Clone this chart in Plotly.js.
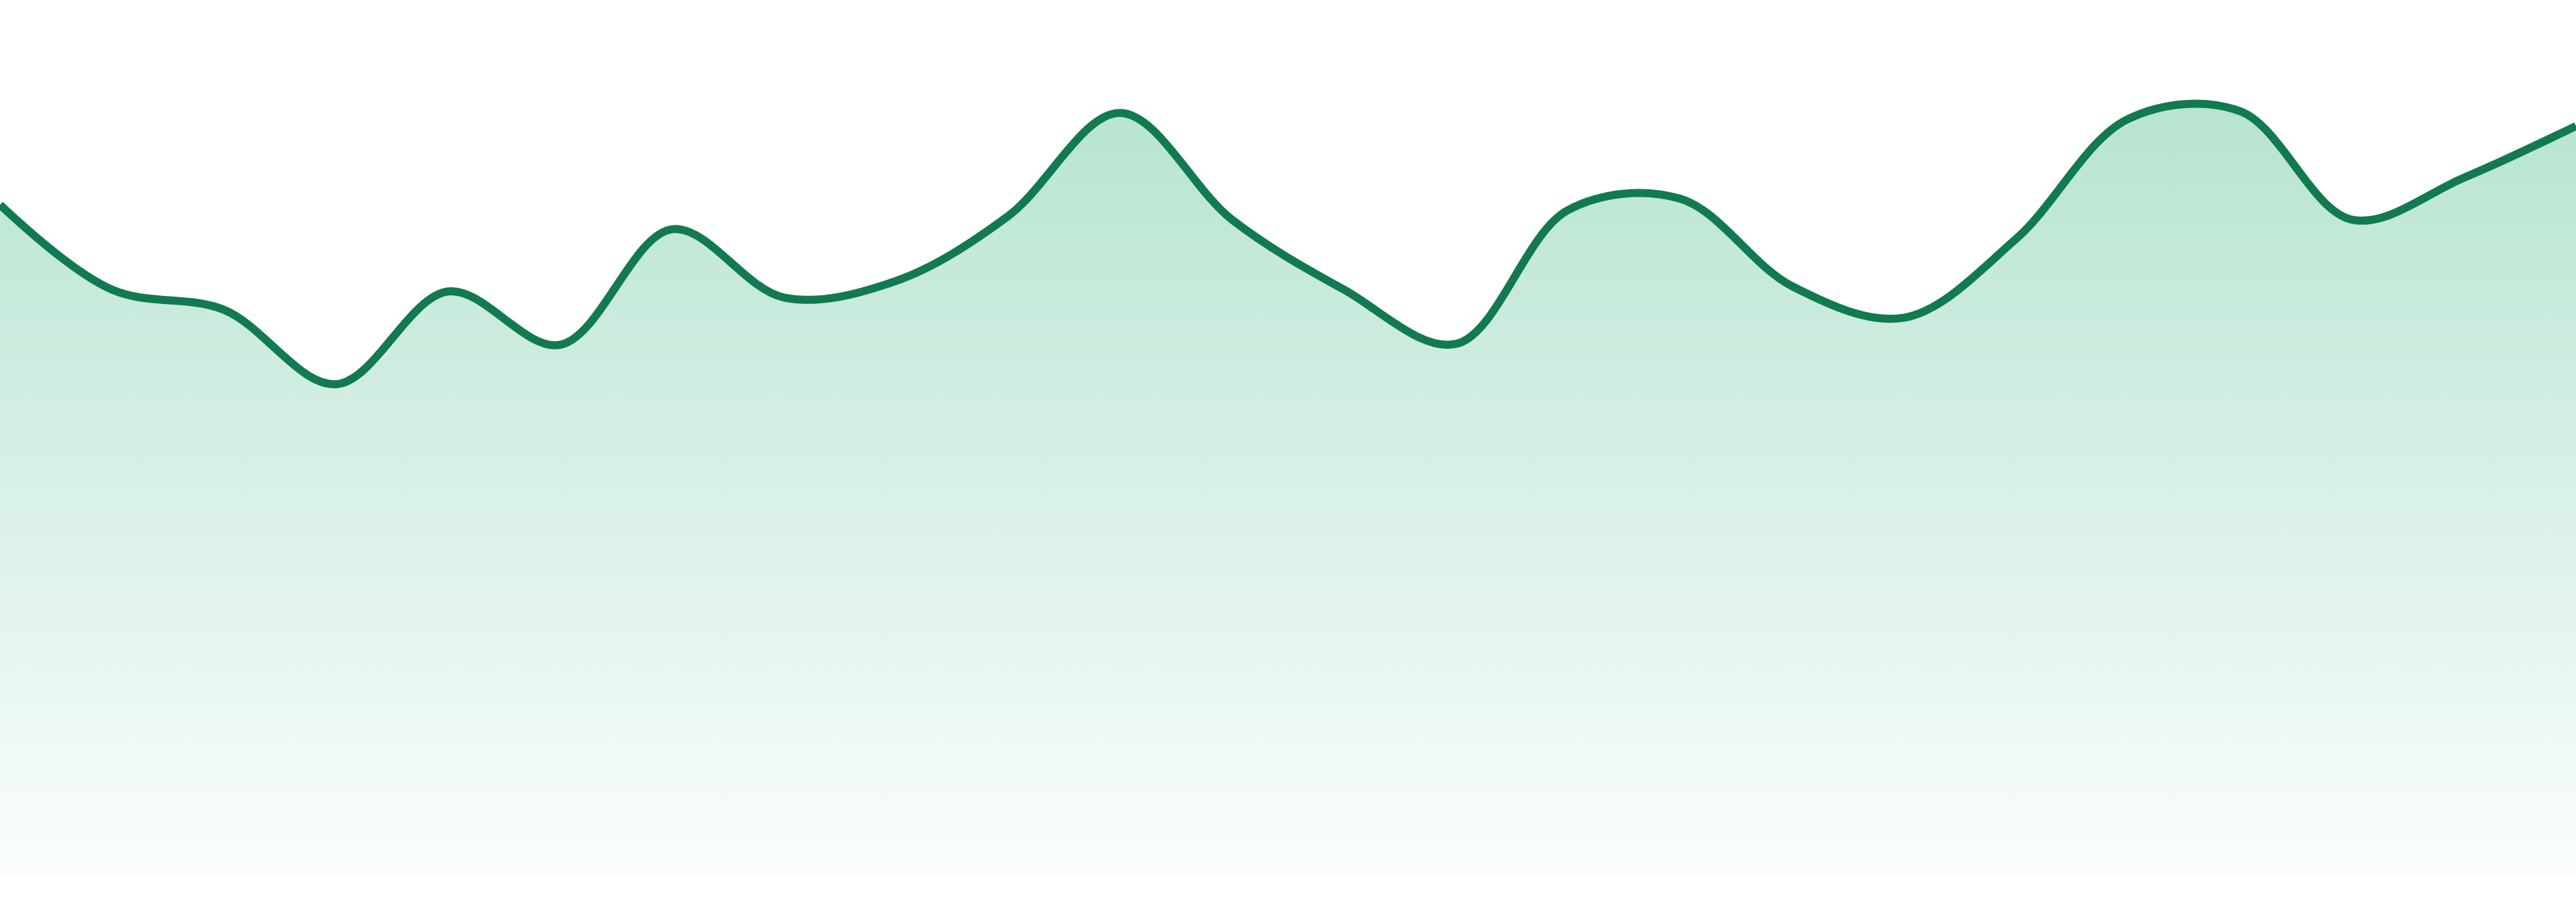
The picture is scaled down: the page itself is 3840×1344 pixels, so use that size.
<!DOCTYPE html>
<html>
<head>
<meta charset="utf-8">
<script src="https://cdn.plot.ly/plotly-3.0.1.min.js"></script>
<style>
  html, body { margin: 0; padding: 0; background: #ffffff; }
  #areaVis { width: 3840px; height: 1344px; }
</style>
</head>
<body>
<div id="areaVis"></div>
<script>
//Data: one value per step, 24 steps
var steps = [0, 1, 2, 3, 4, 5, 6, 7, 8, 9, 10, 11, 12, 13, 14, 15, 16, 17, 18, 19, 20, 21, 22, 23];
var values = [76.6, 66.9, 64.6, 56.1, 66.7, 60.6, 73.8, 66.0, 67.9, 75.3, 87.1, 74.9,
              66.9, 60.7, 76.0, 77.3, 67.3, 63.7, 72.7, 86.4, 87.3, 74.9, 79.7, 85.6];

var lineColor = '#117a50';

//Area under a smoothed line, fading out to the bottom of the plot
var area = {
  x: steps, y: values,
  type: 'scatter', mode: 'lines',
  line: {color: lineColor, width: 12, shape: 'spline', smoothing: 1},
  fill: 'tozeroy',
  fillgradient: {
    type: 'vertical',
    start: 0, stop: 88,
    colorscale: [[0, 'rgba(30,170,110,0.02)'], [1, 'rgba(30,170,110,0.32)']]
  },
  hoverinfo: 'skip'
};

var layout = {
  width: 3840, height: 1344,
  margin: {l: 0, r: 0, t: 0, b: 40},
  paper_bgcolor: '#ffffff', plot_bgcolor: '#ffffff',
  showlegend: false,
  xaxis: {range: [0, 23], visible: false, fixedrange: true},
  yaxis: {range: [0, 100], visible: false, fixedrange: true}
};

Plotly.newPlot('areaVis', [area], layout, {staticPlot: true, displayModeBar: false});
</script>
</body>
</html>
